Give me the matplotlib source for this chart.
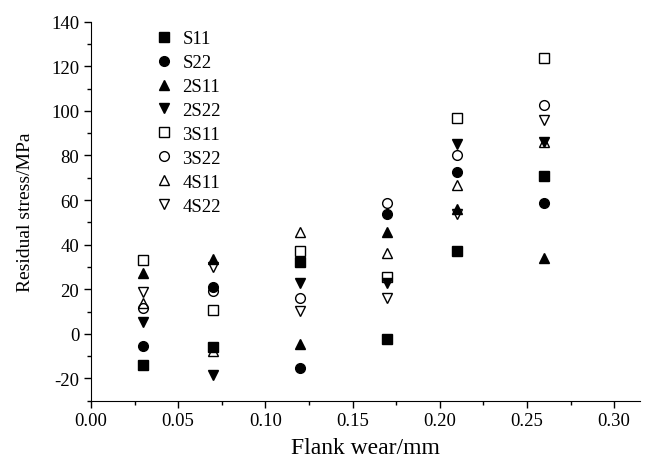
import matplotlib
matplotlib.use('Agg')
import matplotlib.pyplot as plt
from matplotlib.ticker import MultipleLocator

plt.rcParams['font.family'] = ['Liberation Serif', 'DejaVu Serif']
plt.rcParams['axes.unicode_minus'] = False

# flank wear values (mm)
wear = [0.03, 0.07, 0.12, 0.17, 0.21, 0.26]

# residual stress (MPa) per series
s11 = [-14.0, -6.0, 32.0, -2.5, 37.0, 70.8]
s22 = [-5.3, 21.1, -15.5, 53.9, 72.6, 58.8]
s2_11 = [27.4, 33.5, -4.7, 45.7, 56.1, 34.1]
s2_22 = [5.4, -18.5, 22.6, 22.6, 85.3, 86.0]
s3_11 = [33.3, 10.6, 37.0, 25.3, 96.8, 123.6]
s3_22 = [11.4, 19.3, 16.2, 58.8, 80.0, 102.7]
s4_11 = [13.6, -7.6, 45.7, 36.4, 66.6, 86.0]
s4_22 = [18.8, 30.0, 10.2, 16.2, 53.9, 96.1]

series = [
  ('S11', s11, 's', 'k', 6.5),
  ('S22', s22, 'o', 'k', 7),
  ('2S11', s2_11, '^', 'k', 7.5),
  ('2S22', s2_22, 'v', 'k', 7.5),
  ('3S11', s3_11, 's', 'none', 7),
  ('3S22', s3_22, 'o', 'none', 7),
  ('4S11', s4_11, '^', 'none', 7.5),
  ('4S22', s4_22, 'v', 'none', 7.5),
]

fig = plt.figure(figsize=(6.47, 4.64), dpi=100)
ax = fig.add_axes([0.1406, 0.1343, 0.8485, 0.8168])

for name, vals, mk, fc, ms in series:
  ax.plot(wear, vals, linestyle='none', marker=mk, markersize=ms,
          markerfacecolor=fc, markeredgecolor='k', markeredgewidth=1.0,
          label=name)

ax.set_xlim(0, 0.3148)
ax.set_ylim(-30, 140)
ax.xaxis.set_major_locator(MultipleLocator(0.05))
ax.xaxis.set_minor_locator(MultipleLocator(0.025))
ax.yaxis.set_major_locator(MultipleLocator(20))
ax.yaxis.set_minor_locator(MultipleLocator(10))
ax.xaxis.set_major_formatter(plt.FuncFormatter(lambda v, p: '%.2f' % v))

for side in ('top', 'right'):
  ax.spines[side].set_visible(False)
ax.tick_params(which='major', direction='out', length=5, width=1, labelsize=13.5)
ax.tick_params(which='minor', direction='out', length=3, width=1)

ax.set_xlabel('Flank wear/mm', fontsize=17, labelpad=5.5)
ax.set_ylabel('Residual stress/MPa', fontsize=14, labelpad=12)

ax.legend(loc='upper left', bbox_to_anchor=(0.088, 1.012), frameon=False,
          fontsize=13.5, handletextpad=0.4, labelspacing=0.36,
          handlelength=1.2, borderaxespad=0.3)

fig.savefig('out.png', dpi=100)
